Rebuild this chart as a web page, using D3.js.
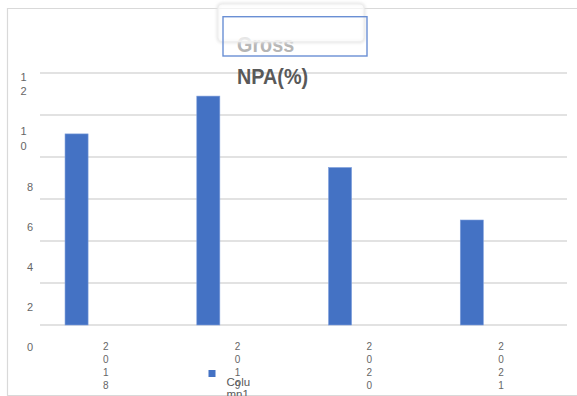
<!DOCTYPE html>
<html>
<head>
<meta charset="utf-8">
<script src="https://cdn.jsdelivr.net/npm/d3@7"></script>
<style>
  html, body { margin: 0; padding: 0; background: #fff; }
  svg { display: block; }
</style>
</head>
<body>
<svg id="chart" width="577" height="396"></svg>
<script>
// ---- data ----
const categories = ["2018", "2019", "2020", "2021"];
const column1 = [9.1, 10.9, 7.5, 5.0];
const seriesNames = ["Column1", "(blank)"];
const yTicks = [0, 2, 4, 6, 8, 10, 12];
const titleLines = ["Gross", "NPA(%)"];
const legendLines = ["Colu", "mn1"];

// ---- layout ----
const W = 577, H = 396;
const plot = { left: 40, right: 567, top: 73, bottom: 325 };
const svg = d3.select("#chart");
const textGray = "#666666";
const barColor = "#4472C4";

svg.append("rect").attr("width", W).attr("height", H).attr("fill", "#fff");

// chart area border (left, top, bottom)
svg.append("path")
  .attr("d", `M${W},8.5 H7.5 V395.5 H${W}`)
  .attr("fill", "none").attr("stroke", "#d9d9d9").attr("stroke-width", 1.2);

const x0 = d3.scaleBand().domain(categories).range([plot.left, plot.right]);
const x1 = d3.scaleBand().domain(seriesNames)
  .range([x0.bandwidth() * 0.19, x0.bandwidth() * 0.54]);
const y = d3.scaleLinear().domain([0, 12]).range([plot.bottom, plot.top]);

// gridlines
svg.append("g").selectAll("line").data(yTicks).join("line")
  .attr("x1", plot.left).attr("x2", plot.right)
  .attr("y1", d => y(d)).attr("y2", d => y(d))
  .attr("stroke", "#d9d9d9").attr("stroke-width", 1.3);

// bars
svg.append("g").selectAll("rect").data(categories).join("rect")
  .attr("x", (c) => x0(c) + x1("Column1"))
  .attr("width", x1.bandwidth())
  .attr("y", (c, i) => y(column1[i]))
  .attr("height", (c, i) => y(0) - y(column1[i]))
  .attr("fill", barColor)
  .attr("stroke", "#7f9fdc").attr("stroke-width", 0.6);

// y tick labels (each digit stacked on its own line)
const yLab = d3.scaleLinear().domain([0, 8, 10, 12]).range([347, 186.7, 138.3, 83.8]);
const yLineH = 14.4;
const yl = svg.append("g")
  .attr("font-family", "Liberation Sans, Arial, sans-serif")
  .attr("font-size", 11).attr("fill", textGray).attr("text-anchor", "middle");
yTicks.forEach(v => {
  const chars = String(v).split("");
  const n = chars.length;
  const t = yl.append("text")
    .attr("x", n > 1 ? 23.5 : 30);
  chars.forEach((ch, k) => {
    t.append("tspan")
      .attr("x", n > 1 ? 23.5 : 30)
      .attr("y", yLab(v) - (n - 1) * yLineH / 2 + k * yLineH + 4)
      .text(ch);
  });
});

// x tick labels (each digit stacked)
const xl = svg.append("g")
  .attr("font-family", "Liberation Sans, Arial, sans-serif")
  .attr("font-size", 10).attr("fill", textGray).attr("text-anchor", "middle");
categories.forEach(c => {
  const cx = x0(c) + x0.bandwidth() / 2;
  const t = xl.append("text");
  c.split("").forEach((ch, k) => {
    t.append("tspan").attr("x", cx).attr("y", 349.5 + k * 13.3).text(ch);
  });
});

// legend
svg.append("rect").attr("x", 208.5).attr("y", 370).attr("width", 7).attr("height", 7)
  .attr("fill", barColor);
const lg = svg.append("text")
  .attr("font-family", "Liberation Sans, Arial, sans-serif")
  .attr("font-size", 11.5).attr("fill", "#595959");
legendLines.forEach((s, k) => {
  lg.append("tspan").attr("x", 226.5).attr("y", 385.5 + k * 12).text(s);
});

// title (glitched text box)
const defs = svg.append("defs");
const f = defs.append("filter").attr("id", "soft").attr("x", "-10%").attr("y", "-20%")
  .attr("width", "120%").attr("height", "140%");
f.append("feGaussianBlur").attr("stdDeviation", 1.5);

svg.append("text")
  .attr("transform", "translate(237,52) scale(0.88,1)")
  .attr("font-family", "Liberation Sans, Arial, sans-serif")
  .attr("font-weight", "bold").attr("font-size", 22.5)
  .attr("fill", "#b5b5b5")
  .text(titleLines[0]);

svg.append("rect")
  .attr("x", 218).attr("y", 4).attr("width", 146).attr("height", 37.7).attr("rx", 4)
  .attr("fill", "none").attr("stroke", "#e2e2e2").attr("stroke-width", 2.5)
  .attr("filter", "url(#soft)");
svg.append("rect")
  .attr("x", 218).attr("y", 4).attr("width", 146).attr("height", 37.7).attr("rx", 4)
  .attr("fill", "#fff").attr("fill-opacity", 0.65)
  .attr("stroke", "#eeeeee").attr("stroke-width", 1);

svg.append("rect")
  .attr("x", 223).attr("y", 16.7).attr("width", 144).attr("height", 39.3)
  .attr("fill", "none").attr("stroke", "#6a8fd4").attr("stroke-width", 1.4);

svg.append("text")
  .attr("transform", "translate(237,83.5) scale(0.88,1)")
  .attr("font-family", "Liberation Sans, Arial, sans-serif")
  .attr("font-weight", "bold").attr("font-size", 22.5)
  .attr("fill", "#595959")
  .text(titleLines[1]);
</script>
</body>
</html>
